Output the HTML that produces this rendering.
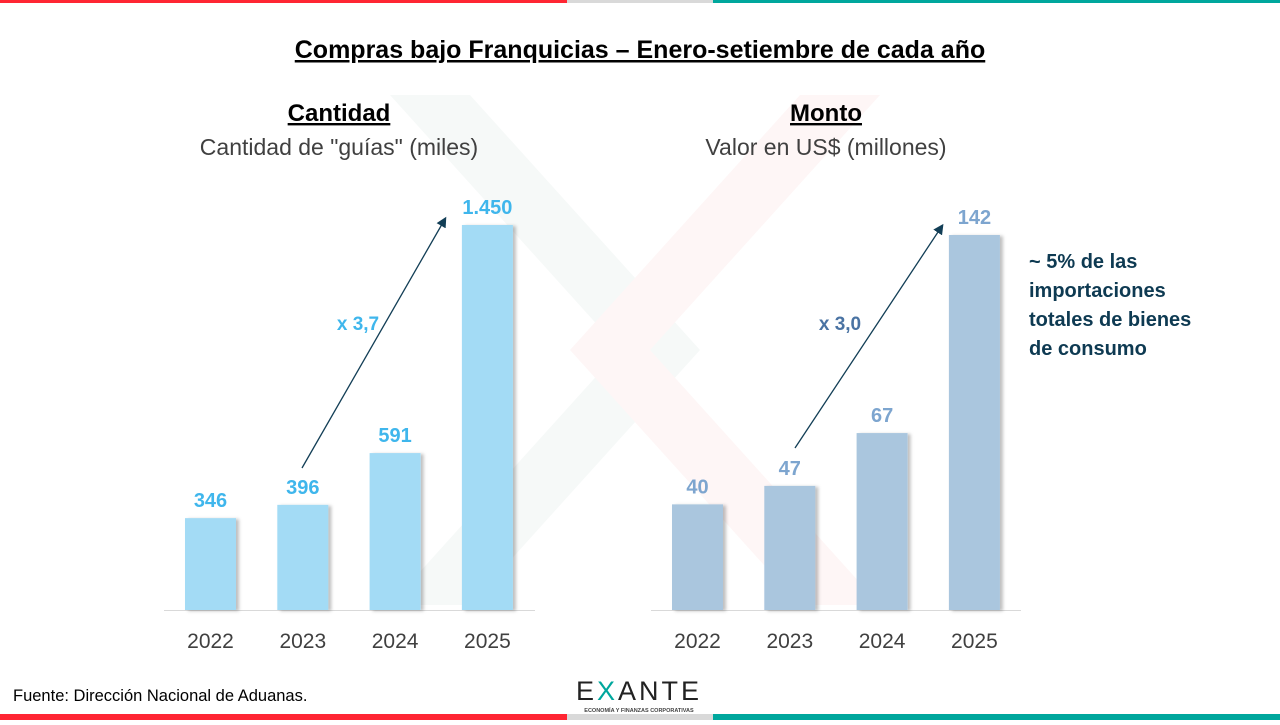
<!DOCTYPE html>
<html><head><meta charset="utf-8"><style>
body{margin:0;width:1280px;height:720px;overflow:hidden;background:#fff;font-family:"Liberation Sans",sans-serif}
svg text{font-family:"Liberation Sans",sans-serif}
</style></head><body>
<svg id="chart" width="1280" height="720" viewBox="0 0 1280 720" xmlns="http://www.w3.org/2000/svg">
<defs><filter id="sh" x="-10%" y="-5%" width="130%" height="110%"><feDropShadow dx="3" dy="1" stdDeviation="1.5" flood-color="#000" flood-opacity="0.25"/></filter>
<marker id="ar" markerWidth="8" markerHeight="8" refX="6" refY="4" orient="auto"><path d="M0,0 L8,4 L0,8 Z" fill="#123e56"/></marker></defs>
<g>
<polygon points="390,95 470,95 700,350 470,605 390,605 620,350" fill="#f6f9f8"/>
<polygon points="800,95 880,95 650,350 880,605 800,605 570,350" fill="#fef6f6"/>
</g>
<rect x="0" y="0" width="567" height="3" fill="#ff2633"/>
<rect x="567" y="0" width="146" height="3" fill="#d9d9d9"/>
<rect x="713" y="0" width="567" height="3" fill="#00a79d"/>
<rect x="0" y="714" width="567" height="6" fill="#ff2633"/>
<rect x="567" y="714" width="146" height="6" fill="#d9d9d9"/>
<rect x="713" y="714" width="567" height="6" fill="#00a79d"/>
<text x="640" y="58" text-anchor="middle" font-size="25" font-weight="bold" fill="#000" text-decoration="underline">Compras bajo Franquicias – Enero-setiembre de cada año</text>
<text x="339" y="121" text-anchor="middle" font-size="24" font-weight="bold" text-decoration="underline">Cantidad</text>
<text x="339" y="155" text-anchor="middle" font-size="23" fill="#404040">Cantidad de "guías" (miles)</text>
<text x="826" y="121" text-anchor="middle" font-size="24" font-weight="bold" text-decoration="underline">Monto</text>
<text x="826" y="155" text-anchor="middle" font-size="23" fill="#404040">Valor en US$ (millones)</text>
<g id="left"></g>
<g id="right"></g>
<line x1="302" y1="468" x2="445" y2="219" stroke="#123e56" stroke-width="1.3" marker-end="url(#ar)"/>
<text x="358" y="330" text-anchor="middle" font-size="19" font-weight="bold" fill="#3fb6ec">x 3,7</text>
<line x1="795" y1="448" x2="942" y2="226" stroke="#123e56" stroke-width="1.3" marker-end="url(#ar)"/>
<text x="840" y="330" text-anchor="middle" font-size="19" font-weight="bold" fill="#4a73a3">x 3,0</text>
<g font-size="20" font-weight="bold" fill="#0e3a52">
<text x="1029" y="268">~ 5% de las</text><text x="1029" y="297">importaciones</text><text x="1029" y="326">totales de bienes</text><text x="1029" y="355">de consumo</text></g>
<text x="13" y="701" font-size="16.5" fill="#000">Fuente: Dirección Nacional de Aduanas.</text>
<g>
<text x="639" y="700" text-anchor="middle" font-size="27" fill="#222" letter-spacing="3">E<tspan fill="#00a79d">X</tspan>ANTE</text>
<text x="639" y="712" text-anchor="middle" font-size="5.5" font-weight="bold" fill="#444">ECONOMÍA Y FINANZAS CORPORATIVAS</text></g>
</svg>
<script>
const years=["2022","2023","2024","2025"];
const cantidad=[346,396,591,1450];
const cantidadLabels=["346","396","591","1.450"];
const monto=[40,47,67,142];
const montoLabels=["40","47","67","142"];
const NS="http://www.w3.org/2000/svg";
function mk(t,a,p){const e=document.createElementNS(NS,t);for(const k in a)e.setAttribute(k,a[k]);p.appendChild(e);return e;}
function draw(gid,vals,labels,x0,axL,axR,maxV,maxH,barC,labC){
 const g=document.getElementById(gid),base=610,step=92.3,w=51;
 const y=v=>base-v/maxV*maxH;
 const ax=mk('line',{x1:axL,x2:axR,y1:base+0.5,y2:base+0.5,stroke:'#d9d9d9','stroke-width':1},g);
 
 
 vals.forEach((v,i)=>{
  const x=x0+i*step;
  const r=mk('rect',{x:x,y:y(v),width:w,height:base-y(v),fill:barC,filter:'url(#sh)'},g);
  
  
  const t=mk('text',{x:x+w/2,y:y(v)-11,'text-anchor':'middle','font-size':20,'font-weight':'bold',fill:labC},g);
  t.textContent=labels[i];
  
  
  const yl=mk('text',{x:x+w/2,y:648,'text-anchor':'middle','font-size':21,fill:'#404040'},g);
  yl.textContent=years[i];
  
  
 });
}
draw('left',cantidad,cantidadLabels,185,164,535,1450,385,'#a3dbf5','#3fb6ec');
draw('right',monto,montoLabels,672,651,1021,142,375,'#aac6de','#7da5cf');
</script>
</body></html>
